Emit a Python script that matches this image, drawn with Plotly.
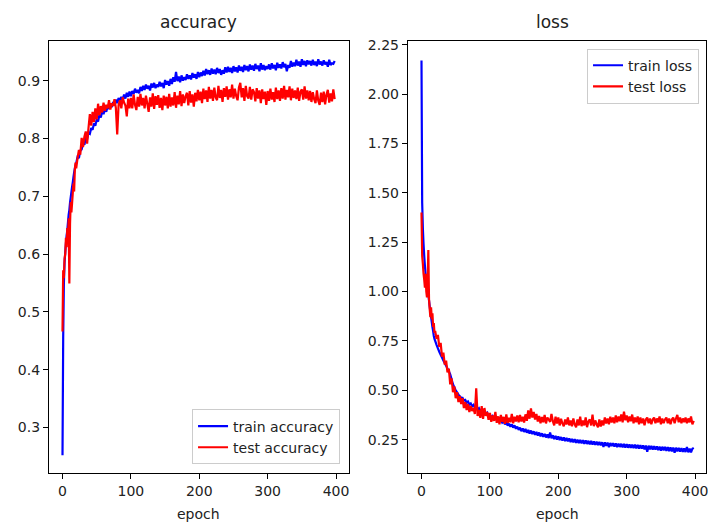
import plotly.graph_objects as go

# ---------------- data ----------------
epochs = list(range(20)) + list(range(20, 400, 2))

train_acc = [
    0.252, 0.455, 0.548, 0.585, 0.602, 0.618, 0.632, 0.641, 0.655, 0.668,
    0.676, 0.689, 0.698, 0.707, 0.716, 0.724, 0.733, 0.741, 0.748, 0.753,
    0.757, 0.768, 0.766, 0.779, 0.781, 0.792, 0.789, 0.801, 0.799, 0.810,
    0.808, 0.818, 0.815, 0.826, 0.822, 0.833, 0.829, 0.841, 0.836, 0.847,
    0.842, 0.852, 0.846, 0.856, 0.851, 0.860, 0.854, 0.863, 0.857, 0.867,
    0.861, 0.870, 0.864, 0.872, 0.866, 0.876, 0.869, 0.879, 0.872, 0.881,
    0.873, 0.882, 0.877, 0.886, 0.879, 0.884, 0.878, 0.889, 0.882, 0.891,
    0.884, 0.893, 0.886, 0.891, 0.883, 0.895, 0.888, 0.896, 0.887, 0.893,
    0.889, 0.898, 0.890, 0.896, 0.887, 0.901, 0.893, 0.899, 0.891, 0.903,
    0.894, 0.906, 0.898, 0.915, 0.899, 0.907, 0.897, 0.909, 0.900, 0.906,
    0.901, 0.911, 0.903, 0.909, 0.902, 0.913, 0.905, 0.911, 0.903, 0.915,
    0.906, 0.914, 0.908, 0.917, 0.909, 0.920, 0.911, 0.918, 0.910, 0.921,
    0.912, 0.919, 0.911, 0.922, 0.913, 0.920, 0.910, 0.918, 0.912, 0.923,
    0.914, 0.924, 0.915, 0.922, 0.913, 0.925, 0.916, 0.923, 0.914, 0.926,
    0.917, 0.924, 0.915, 0.927, 0.918, 0.925, 0.916, 0.928, 0.919, 0.926,
    0.917, 0.929, 0.920, 0.926, 0.916, 0.930, 0.919, 0.927, 0.918, 0.925,
    0.920, 0.928, 0.919, 0.930, 0.921, 0.927, 0.918, 0.931, 0.922, 0.928,
    0.921, 0.932, 0.923, 0.929, 0.916, 0.927, 0.922, 0.934, 0.924, 0.931,
    0.925, 0.936, 0.926, 0.933, 0.924, 0.937, 0.927, 0.934, 0.925, 0.935,
    0.928, 0.934, 0.926, 0.936, 0.927, 0.933, 0.925, 0.937, 0.928, 0.933,
    0.926, 0.935, 0.928, 0.932, 0.924, 0.936, 0.927, 0.930, 0.929, 0.934,
]

test_acc = [
    0.466, 0.572, 0.558, 0.592, 0.600, 0.628, 0.612, 0.645, 0.625, 0.662,
    0.549, 0.652, 0.690, 0.672, 0.688, 0.705, 0.722, 0.708, 0.745, 0.758,
    0.748, 0.766, 0.780, 0.772, 0.801, 0.785, 0.803, 0.812, 0.791, 0.818,
    0.842, 0.822, 0.846, 0.828, 0.852, 0.833, 0.860, 0.840, 0.856, 0.845,
    0.862, 0.848, 0.858, 0.852, 0.866, 0.850, 0.861, 0.856, 0.868, 0.853,
    0.807, 0.858, 0.866, 0.852, 0.871, 0.862, 0.857, 0.838, 0.869, 0.852,
    0.870, 0.852, 0.876, 0.858, 0.849, 0.872, 0.855, 0.877, 0.857, 0.870,
    0.852, 0.874, 0.860, 0.846, 0.871, 0.855, 0.878, 0.851, 0.873, 0.858,
    0.875, 0.853, 0.870, 0.849, 0.874, 0.857, 0.872, 0.852, 0.877, 0.855,
    0.871, 0.857, 0.880, 0.853, 0.874, 0.859, 0.882, 0.856, 0.876, 0.861,
    0.873, 0.879, 0.857, 0.882, 0.862, 0.876, 0.855, 0.879, 0.864, 0.884,
    0.866, 0.881, 0.861, 0.886, 0.868, 0.883, 0.863, 0.889, 0.869, 0.884,
    0.865, 0.888, 0.871, 0.866, 0.891, 0.870, 0.884, 0.863, 0.887, 0.872,
    0.890, 0.867, 0.885, 0.871, 0.893, 0.869, 0.886, 0.873, 0.866, 0.888,
    0.896, 0.871, 0.887, 0.865, 0.891, 0.873, 0.869, 0.889, 0.867, 0.885,
    0.880, 0.864, 0.887, 0.869, 0.883, 0.861, 0.885, 0.868, 0.881, 0.858,
    0.882, 0.865, 0.886, 0.867, 0.880, 0.863, 0.888, 0.868, 0.883, 0.865,
    0.887, 0.869, 0.891, 0.867, 0.884, 0.871, 0.890, 0.866, 0.886, 0.870,
    0.883, 0.868, 0.888, 0.865, 0.881, 0.885, 0.867, 0.890, 0.869, 0.883,
    0.866, 0.882, 0.863, 0.880, 0.868, 0.861, 0.883, 0.865, 0.858, 0.879,
    0.863, 0.881, 0.859, 0.876, 0.884, 0.862, 0.878, 0.864, 0.885, 0.868,
]

train_loss = [
    2.170, 1.450, 1.320, 1.240, 1.180, 1.130, 1.090, 1.055, 1.025, 1.000,
    0.985, 0.955, 0.925, 0.895, 0.870, 0.845, 0.820, 0.800, 0.775, 0.760,
    0.750, 0.730, 0.712, 0.695, 0.680, 0.666, 0.650, 0.637, 0.624, 0.610,
    0.597, 0.580, 0.556, 0.530, 0.515, 0.500, 0.489, 0.478, 0.470, 0.462,
    0.462, 0.448, 0.451, 0.437, 0.443, 0.428, 0.433, 0.419, 0.426, 0.412,
    0.417, 0.402, 0.409, 0.395, 0.401, 0.386, 0.393, 0.379, 0.386, 0.371,
    0.377, 0.362, 0.370, 0.355, 0.364, 0.349, 0.357, 0.341, 0.350, 0.336,
    0.343, 0.327, 0.337, 0.321, 0.331, 0.315, 0.327, 0.311, 0.322, 0.305,
    0.316, 0.299, 0.311, 0.293, 0.307, 0.289, 0.304, 0.285, 0.299, 0.281,
    0.296, 0.278, 0.292, 0.274, 0.289, 0.270, 0.286, 0.267, 0.282, 0.264,
    0.279, 0.261, 0.276, 0.258, 0.286, 0.257, 0.272, 0.253, 0.269, 0.250,
    0.266, 0.248, 0.263, 0.245, 0.261, 0.243, 0.259, 0.241, 0.256, 0.238,
    0.254, 0.236, 0.252, 0.234, 0.250, 0.232, 0.249, 0.231, 0.247, 0.229,
    0.246, 0.228, 0.244, 0.226, 0.243, 0.225, 0.241, 0.223, 0.240, 0.222,
    0.239, 0.221, 0.237, 0.213, 0.236, 0.219, 0.235, 0.212, 0.233, 0.217,
    0.232, 0.215, 0.231, 0.212, 0.230, 0.213, 0.229, 0.211, 0.228, 0.210,
    0.227, 0.209, 0.226, 0.208, 0.225, 0.207, 0.224, 0.206, 0.223, 0.205,
    0.222, 0.204, 0.221, 0.200, 0.220, 0.188, 0.219, 0.201, 0.218, 0.200,
    0.217, 0.199, 0.216, 0.197, 0.215, 0.194, 0.214, 0.196, 0.213, 0.193,
    0.212, 0.192, 0.211, 0.191, 0.210, 0.184, 0.209, 0.190, 0.208, 0.189,
    0.207, 0.188, 0.206, 0.187, 0.213, 0.186, 0.205, 0.185, 0.204, 0.208,
]

test_loss = [
    1.400, 1.180, 1.140, 1.090, 1.060, 1.020, 1.090, 1.000, 0.970, 1.050,
    1.210, 0.960, 0.910, 0.870, 0.920, 0.860, 0.890, 0.820, 0.840, 0.790,
    0.800, 0.760, 0.780, 0.720, 0.740, 0.670, 0.690, 0.630, 0.650, 0.590,
    0.610, 0.530, 0.560, 0.490, 0.520, 0.460, 0.490, 0.440, 0.470, 0.430,
    0.460, 0.410, 0.440, 0.400, 0.430, 0.390, 0.420, 0.395, 0.410, 0.380,
    0.510, 0.370, 0.400, 0.360, 0.420, 0.355, 0.410, 0.370, 0.390, 0.350,
    0.385, 0.340, 0.372, 0.345, 0.390, 0.335, 0.368, 0.328, 0.375, 0.340,
    0.365, 0.330, 0.378, 0.335, 0.360, 0.338, 0.380, 0.333, 0.366, 0.342,
    0.372, 0.338, 0.375, 0.342, 0.366, 0.337, 0.378, 0.345, 0.398, 0.356,
    0.408, 0.362, 0.390, 0.352, 0.380, 0.342, 0.370, 0.333, 0.365, 0.338,
    0.375, 0.332, 0.362, 0.352, 0.340, 0.380, 0.343, 0.322, 0.366, 0.332,
    0.362, 0.322, 0.356, 0.332, 0.318, 0.352, 0.327, 0.362, 0.322, 0.347,
    0.318, 0.357, 0.327, 0.313, 0.352, 0.322, 0.366, 0.318, 0.347, 0.322,
    0.362, 0.313, 0.342, 0.352, 0.322, 0.376, 0.318, 0.347, 0.328, 0.313,
    0.352, 0.316, 0.347, 0.322, 0.362, 0.332, 0.357, 0.328, 0.366, 0.337,
    0.362, 0.333, 0.372, 0.338, 0.367, 0.343, 0.377, 0.338, 0.392, 0.348,
    0.372, 0.338, 0.367, 0.343, 0.377, 0.333, 0.362, 0.338, 0.367, 0.328,
    0.362, 0.333, 0.357, 0.323, 0.352, 0.362, 0.333, 0.357, 0.328, 0.352,
    0.362, 0.333, 0.357, 0.338, 0.367, 0.328, 0.357, 0.333, 0.352, 0.362,
    0.333, 0.357, 0.328, 0.352, 0.362, 0.333, 0.357, 0.375, 0.338, 0.362,
    0.333, 0.357, 0.338, 0.362, 0.333, 0.357, 0.338, 0.367, 0.328, 0.345,
]

acc_ticks = [0.3, 0.4, 0.5, 0.6, 0.7, 0.8, 0.9]
loss_ticks = [0.25, 0.50, 0.75, 1.00, 1.25, 1.50, 1.75, 2.00, 2.25]
epoch_ticks = [0, 100, 200, 300, 400]

# ---------------- figure ----------------
W, H = 708, 525
BLUE, RED = "#0000ff", "#ff0000"
FONT = "DejaVu Sans"
TXT = "#222222"
LW = 2.2

fig = go.Figure()
fig.add_trace(go.Scatter(x=epochs, y=train_acc, mode="lines", name="train accuracy",
                         line=dict(color=BLUE, width=LW, simplify=False), xaxis="x", yaxis="y", legend="legend"))
fig.add_trace(go.Scatter(x=epochs, y=test_acc, mode="lines", name="test accuracy",
                         line=dict(color=RED, width=LW, simplify=False), xaxis="x", yaxis="y", legend="legend"))
fig.add_trace(go.Scatter(x=epochs, y=train_loss, mode="lines", name="train loss",
                         line=dict(color=BLUE, width=LW, simplify=False), xaxis="x2", yaxis="y2", legend="legend2"))
fig.add_trace(go.Scatter(x=epochs, y=test_loss, mode="lines", name="test loss",
                         line=dict(color=RED, width=LW, simplify=False), xaxis="x2", yaxis="y2", legend="legend2"))

ytop, ybot = 37, 473
ydom = [1 - ybot / H, 1 - ytop / H]
xdom1 = [49 / W, 350 / W]
xdom2 = [409 / W, 1.0]

common = dict(showline=True, mirror=True, linecolor="black", linewidth=1,
              ticks="outside", ticklen=5, tickwidth=1, tickcolor="black",
              showgrid=False, zeroline=False, ticklabeloverflow="allow",
              tickfont=dict(family=FONT, size=14, color=TXT))

fig.update_layout(
    width=W, height=H,
    margin=dict(l=0, r=0, t=0, b=0),
    paper_bgcolor="white", plot_bgcolor="white",
    font=dict(family=FONT, size=14, color=TXT),
    xaxis=dict(domain=xdom1, range=[-19.95, 418.95], tickvals=epoch_ticks, anchor="y", **common),
    yaxis=dict(domain=ydom, range=[0.2205, 0.969], tickvals=acc_ticks, tickformat=".1f", anchor="x", **common),
    xaxis2=dict(domain=xdom2, range=[-19.95, 415.9], tickvals=epoch_ticks, anchor="y2", **common),
    yaxis2=dict(domain=ydom, range=[0.079, 2.270], tickvals=loss_ticks, tickformat=".2f", anchor="x2", **common),
    legend=dict(x=341 / W, xanchor="right", y=1 - 464 / H, yanchor="bottom",
                bgcolor="rgba(255,255,255,0.8)", bordercolor="#cccccc", borderwidth=1,
                font=dict(family=FONT, size=14, color=TXT)),
    legend2=dict(x=701 / W, xanchor="right", y=1 - 45 / H, yanchor="top",
                 bgcolor="rgba(255,255,255,0.8)", bordercolor="#cccccc", borderwidth=1,
                 font=dict(family=FONT, size=14, color=TXT)),
    annotations=[
        dict(text="accuracy", x=(xdom1[0] + xdom1[1]) / 2, y=1 - 18 / H, xref="paper", yref="paper",
             xanchor="center", yanchor="middle", showarrow=False, font=dict(family=FONT, size=17, color=TXT)),
        dict(text="loss", x=(xdom2[0] + 700 / W) / 2, y=1 - 18 / H, xref="paper", yref="paper",
             xanchor="center", yanchor="middle", showarrow=False, font=dict(family=FONT, size=17, color=TXT)),
        dict(text="epoch", x=(xdom1[0] + xdom1[1]) / 2, y=1 - 514 / H, xref="paper", yref="paper",
             xanchor="center", yanchor="middle", showarrow=False, font=dict(family=FONT, size=14, color=TXT)),
        dict(text="epoch", x=(xdom2[0] + 710 / W) / 2, y=1 - 514 / H, xref="paper", yref="paper",
             xanchor="center", yanchor="middle", showarrow=False, font=dict(family=FONT, size=14, color=TXT)),
    ],
)

fig.write_html("out.html")
